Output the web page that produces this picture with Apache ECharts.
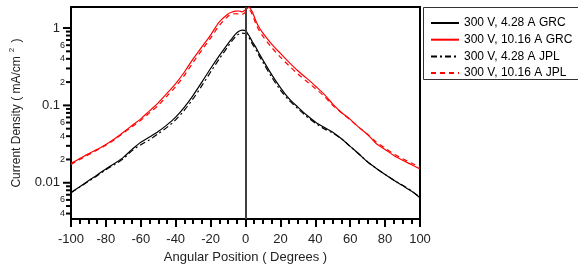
<!DOCTYPE html>
<html>
<head>
<meta charset="utf-8">
<script src="https://cdn.jsdelivr.net/npm/echarts@6/dist/echarts.min.js"></script>
<style>
  html, body { margin: 0; padding: 0; background: #fff; }
  #chart { width: 578px; height: 272px; }
</style>
</head>
<body>
<div id="chart"></div>
<script>
// angular positions (deg)
var angles = [-100,-95,-90,-85,-80,-75,-70,-65,-60,-55,-50,-45,-40,-35,-30,-25,-20,-15,
              -10,-8,-6,-4,-2,0,2,4,6,8,10,
              15,20,25,30,35,40,45,50,55,60,65,70,75,80,85,90,95,100];

// current density (mA/cm2)
var grc428 = [0.0075,0.0089,0.0106,0.0126,0.0151,0.0178,0.0213,0.027,0.0334,0.039,0.046,0.056,0.0705,0.095,0.135,0.20,0.30,0.44,
              0.63,0.72,0.82,0.90,0.94,0.92,0.80,0.66,0.56,0.46,0.385,
              0.25,0.17,0.122,0.095,0.075,0.061,0.052,0.045,0.037,0.0295,0.0235,0.0185,0.0153,0.0128,0.0108,0.0092,0.0078,0.0064];
var grc1016 = [0.0178,0.0205,0.0236,0.027,0.0312,0.037,0.045,0.055,0.067,0.085,0.108,0.143,0.191,0.27,0.40,0.57,0.81,1.20,
               1.52,1.60,1.65,1.66,1.62,1.72,1.85,1.60,1.22,1.00,0.86,
               0.62,0.47,0.36,0.28,0.225,0.178,0.14,0.104,0.081,0.066,0.052,0.042,0.032,0.027,0.0225,0.0195,0.0172,0.0151];
var jpl428 = [0.0074,0.0088,0.0104,0.0123,0.0147,0.0172,0.0205,0.026,0.031,0.036,0.043,0.052,0.065,0.087,0.122,0.18,0.27,0.40,
              0.58,0.67,0.76,0.83,0.86,0.85,0.75,0.62,0.52,0.43,0.36,
              0.232,0.158,0.116,0.091,0.072,0.059,0.050,0.044,0.037,0.0295,0.0235,0.0186,0.0153,0.0128,0.0108,0.0093,0.0079,0.0065];
var jpl1016 = [0.0172,0.020,0.023,0.0265,0.0305,0.036,0.044,0.053,0.064,0.080,0.100,0.132,0.175,0.245,0.36,0.52,0.74,1.08,
               1.42,1.50,1.53,1.52,1.50,1.60,1.72,1.48,1.12,0.92,0.78,
               0.56,0.42,0.325,0.255,0.205,0.165,0.132,0.100,0.080,0.065,0.052,0.042,0.0335,0.028,0.0235,0.0205,0.018,0.016];

var seriesNames = ['300 V, 4.28 A GRC', '300 V, 10.16 A GRC', '300 V, 4.28 A JPL', '300 V, 10.16 A JPL'];

// y axis ticks
var yTickValues = [0.004,0.005,0.006,0.007,0.008,0.009,0.01,
                   0.02,0.03,0.04,0.05,0.06,0.07,0.08,0.09,0.1,
                   0.2,0.3,0.4,0.5,0.6,0.7,0.8,0.9,1];
var yMinorLabels = ['4', '', '6', '', '', '', '',
                    '2', '', '4', '', '6', '', '', '', '',
                    '2', '', '4', '', '6', '', '', '', ''];

function pairs(ys) {
    return angles.map(function (a, i) { return [a, ys[i]]; });
}

function isDecade(v) {
    var e = Math.log(v) / Math.LN10;
    return Math.abs(e - Math.round(e)) < 1e-6;
}

var tickData = yTickValues.map(function (v, i) { return [-100, v, yMinorLabels[i]]; });

var chart = echarts.init(document.getElementById('chart'));
var option = {
    animation: false,
    textStyle: { fontFamily: 'Liberation Sans, Arial, sans-serif' },
    grid: { left: 70, right: 158, top: 7, bottom: 53, show: true, borderColor: '#000', borderWidth: 2 },
    legend: {
        data: seriesNames,
        orient: 'vertical',
        left: 425,
        top: 12,
        itemWidth: 28,
        itemHeight: 12,
        itemGap: 4.7,
        itemStyle: { opacity: 0 },
        textStyle: { fontSize: 12, color: '#000' }
    },
    graphic: [{
        type: 'rect',
        shape: { x: 423.5, y: 7.5, width: 200, height: 72 },
        style: { fill: 'none', stroke: '#333', lineWidth: 1 },
        silent: true
    }],
    xAxis: {
        type: 'value',
        min: -100,
        max: 100,
        interval: 20,
        name: 'Angular Position ( Degrees )',
        nameLocation: 'middle',
        nameGap: 32,
        nameTextStyle: { fontSize: 13, color: '#222' },
        axisLine: { lineStyle: { color: '#000', width: 2 } },
        axisTick: { inside: false, length: 8, lineStyle: { color: '#000', width: 2 } },
        minorTick: { show: true, splitNumber: 4, length: 5, lineStyle: { color: '#000', width: 2 } },
        axisLabel: { fontSize: 13, color: '#222', margin: 14 },
        splitLine: { show: false }
    },
    yAxis: {
        type: 'log',
        min: 0.0034,
        max: 1.87,
        name: '{a|Current Density ( mA/cm}{s|2}{a| )}',
        nameLocation: 'middle',
        nameGap: 46,
        nameTextStyle: {
            rich: {
                a: { fontSize: 12, color: '#222' },
                s: { fontSize: 8, color: '#222', padding: [0, 2, 9, 4] }
            }
        },
        axisLine: { lineStyle: { color: '#000', width: 2 } },
        axisTick: { show: false },
        axisLabel: {
            fontSize: 13,
            color: '#222',
            margin: 11,
            showMinLabel: false,
            showMaxLabel: false,
            formatter: function (v) {
                if (!isDecade(v)) return '';
                var e = Math.round(Math.log(v) / Math.LN10);
                return e >= 0 ? String(Math.pow(10, e)) : Math.pow(10, e).toFixed(-e);
            }
        },
        splitLine: { show: false }
    },
    series: [
        {
            name: seriesNames[0], type: 'line', data: pairs(grc428), symbol: 'none', smooth: 0.3,
            lineStyle: { color: '#000', width: 1.2 }, itemStyle: { color: '#000' },
            markLine: {
                silent: true, symbol: 'none', label: { show: false },
                lineStyle: { color: '#555', width: 1.5, type: 'solid' },
                data: [{ xAxis: 0 }]
            }
        },
        {
            name: seriesNames[1], type: 'line', data: pairs(grc1016), symbol: 'none', smooth: 0.3,
            lineStyle: { color: '#f00', width: 1.2 }, itemStyle: { color: '#f00' }
        },
        {
            name: seriesNames[2], type: 'line', data: pairs(jpl428), symbol: 'none', smooth: 0.3,
            lineStyle: { color: '#000', width: 1.2, type: [6, 3, 2, 3] }, itemStyle: { color: '#000' }
        },
        {
            name: seriesNames[3], type: 'line', data: pairs(jpl1016), symbol: 'none', smooth: 0.3,
            lineStyle: { color: '#f00', width: 1.2, type: [5, 4] }, itemStyle: { color: '#f00' }
        },
        {
            // y axis tick marks and minor labels
            type: 'custom',
            silent: true,
            clip: false,
            encode: { x: 0, y: 1 },
            data: tickData,
            renderItem: function (params, api) {
                var v = api.value(1);
                var p = api.coord([-100, v]);
                var len = isDecade(v) ? 7 : 4;
                var label = tickData[params.dataIndex][2];
                var children = [{
                    type: 'line',
                    shape: { x1: p[0] - 1 - len, y1: p[1], x2: p[0], y2: p[1] },
                    style: { stroke: '#000', lineWidth: 2 }
                }];
                if (label) {
                    children.push({
                        type: 'text',
                        style: {
                            text: label, x: p[0] - 6, y: p[1],
                            align: 'right', verticalAlign: 'middle',
                            fontSize: 9, fill: '#222',
                            fontFamily: 'Liberation Sans, Arial, sans-serif'
                        }
                    });
                }
                return { type: 'group', children: children };
            }
        }
    ]
};
chart.setOption(option);
</script>
</body>
</html>
